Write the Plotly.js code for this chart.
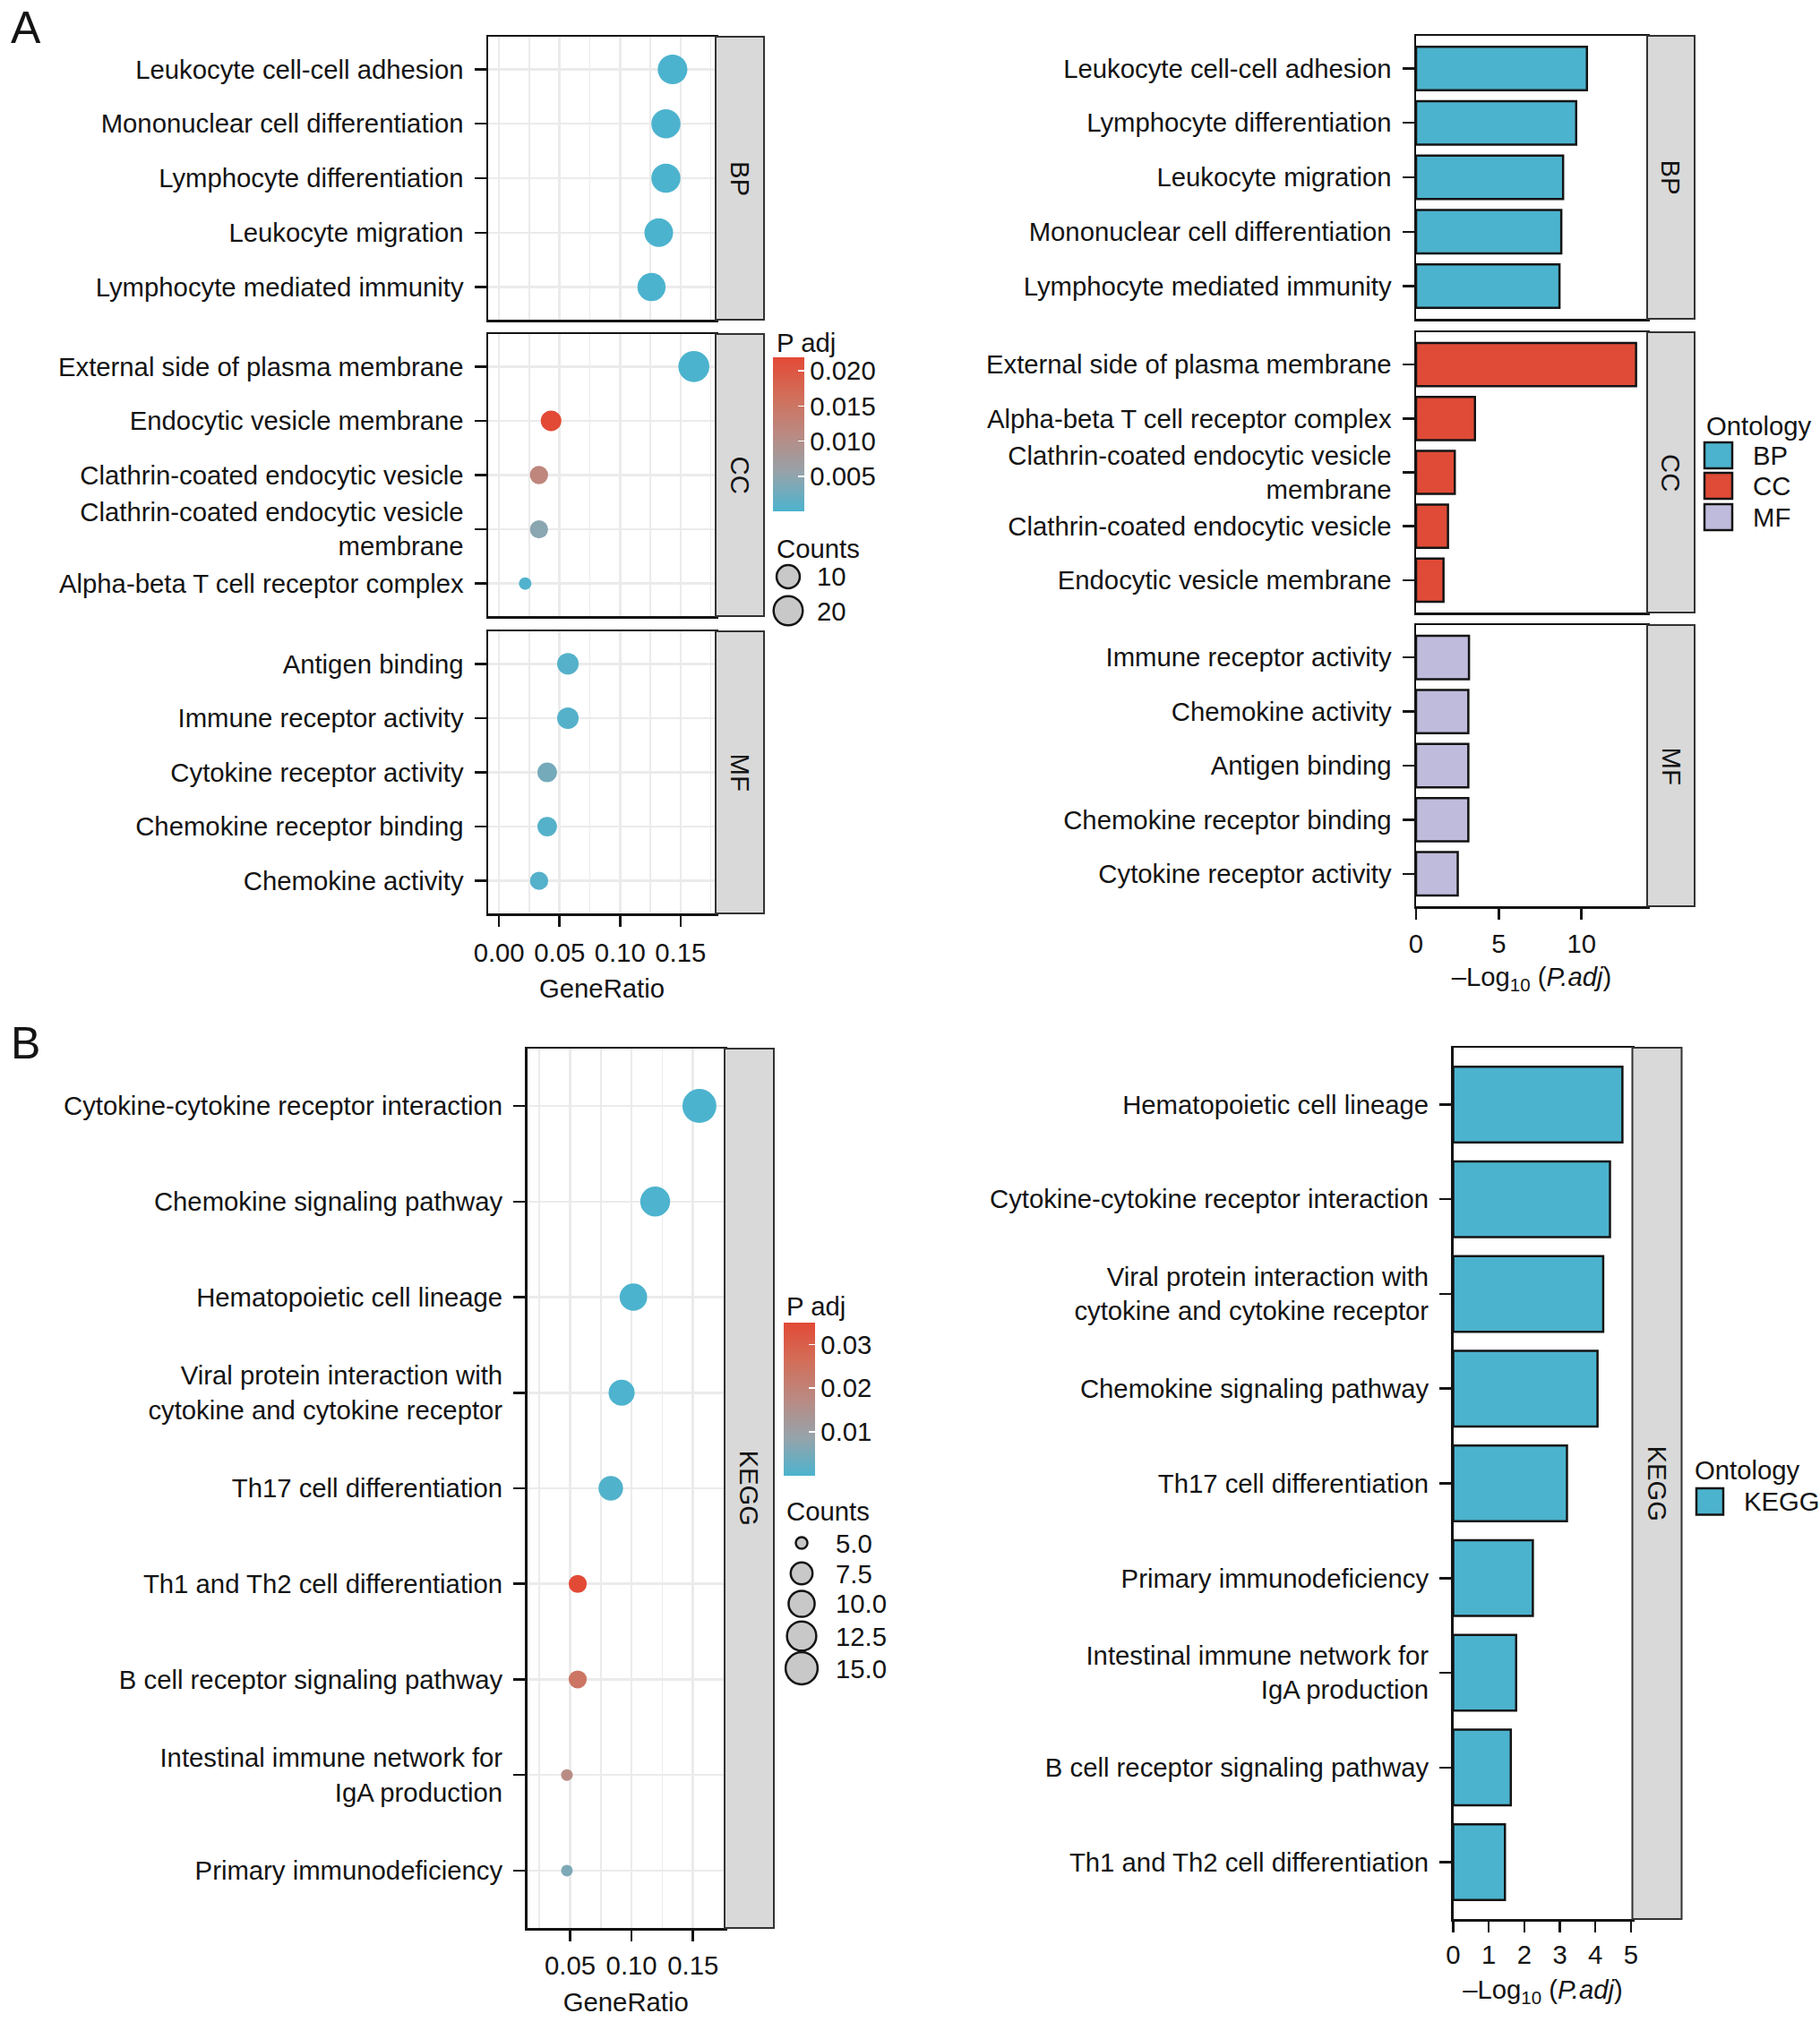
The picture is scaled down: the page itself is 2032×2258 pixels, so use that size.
<!DOCTYPE html>
<html><head><meta charset="utf-8">
<script src="https://cdn.plot.ly/plotly-3.0.1.min.js"></script>
<style>html,body{margin:0;padding:0;background:#fff}#chart{width:2032px;height:2258px}</style>
</head><body><div id="chart"></div>
<script>
// ================= DATA =================
// Panel A - dot plot (GeneRatio / Counts), order top -> bottom
const bpDotTerms = ["Leukocyte cell-cell adhesion","Mononuclear cell differentiation","Lymphocyte differentiation","Leukocyte migration","Lymphocyte mediated immunity"];
const bpDotRatio = [0.1434,0.1379,0.1379,0.1320,0.1260];
const bpDotCount = [21,20,20,19,18];
const ccDotTerms = ["External side of plasma membrane","Endocytic vesicle membrane","Clathrin-coated endocytic vesicle","Clathrin-coated endocytic vesicle<br>membrane","Alpha-beta T cell receptor complex"];
const ccDotRatio = [0.1610,0.0430,0.0330,0.0330,0.0216];
const ccDotCount = [24,7,5,5,3];
const mfDotTerms = ["Antigen binding","Immune receptor activity","Cytokine receptor activity","Chemokine receptor binding","Chemokine activity"];
const mfDotRatio = [0.0569,0.0569,0.0398,0.0398,0.0331];
const mfDotCount = [8,8,6,6,5];
// Panel A - bar plot, -log10(P.adj)
const bpBarTerms = ["Leukocyte cell-cell adhesion","Lymphocyte differentiation","Leukocyte migration","Mononuclear cell differentiation","Lymphocyte mediated immunity"];
const bpBarLogP = [10.33,9.68,8.89,8.78,8.67];
const ccBarTerms = ["External side of plasma membrane","Alpha-beta T cell receptor complex","Clathrin-coated endocytic vesicle<br>membrane","Clathrin-coated endocytic vesicle","Endocytic vesicle membrane"];
const ccBarLogP = [13.30,3.56,2.34,1.93,1.66];
const mfBarTerms = ["Immune receptor activity","Chemokine activity","Antigen binding","Chemokine receptor binding","Cytokine receptor activity"];
const mfBarLogP = [3.20,3.16,3.16,3.16,2.52];
// Panel B - KEGG
const keggDotTerms = ["Cytokine-cytokine receptor interaction","Chemokine signaling pathway","Hematopoietic cell lineage","Viral protein interaction with<br>cytokine and cytokine receptor","Th17 cell differentiation","Th1 and Th2 cell differentiation","B cell receptor signaling pathway","Intestinal immune network for<br>IgA production","Primary immunodeficiency"];
const keggDotRatio = [0.1552,0.1192,0.1015,0.0919,0.0831,0.0562,0.0562,0.0474,0.0474];
const keggDotCount = [17,13,11,10,9,6,6,5,5];
const keggBarTerms = ["Hematopoietic cell lineage","Cytokine-cytokine receptor interaction","Viral protein interaction with<br>cytokine and cytokine receptor","Chemokine signaling pathway","Th17 cell differentiation","Primary immunodeficiency","Intestinal immune network for<br>IgA production","B cell receptor signaling pathway","Th1 and Th2 cell differentiation"];
const keggBarLogP = [4.76,4.41,4.22,4.06,3.20,2.24,1.77,1.62,1.455];
// Legend / tick labels
const padjTicksA = [0.005,0.010,0.015,0.020];
const padjTicksB = [0.01,0.02,0.03];
const countBreaksA = [10,20];
const countBreaksB = [5.0,7.5,10.0,12.5,15.0];
const goxTicks = [0.00,0.05,0.10,0.15];
const keggxTicks = [0.05,0.10,0.15];

// ================= STYLE =================
const W = 2032, H = 2258;
const FONT = "Liberation Sans, Arial, Helvetica, sans-serif";
const FS = 29.3;
const TXT = "#141414";
const C_BP = "#4CB3CE", C_CC = "#DF4B36", C_MF = "#BFBBDC";
const cscale = [[0,"#4CB3CE"],[0.25,"#96A3AA"],[0.5,"#BA8A82"],[0.75,"#D26E59"],[1,"#E24A36"]];
const px = v => v / W;
const py = v => 1 - v / H;

// padj lookup from bar data
const logpMap = {};
[[bpBarTerms,bpBarLogP],[ccBarTerms,ccBarLogP],[mfBarTerms,mfBarLogP],[keggBarTerms,keggBarLogP]].forEach(([t,v])=>t.forEach((n,i)=>logpMap[n]=v[i]));
const padjOf = terms => terms.map(t => Math.pow(10, -logpMap[t]));

const goCounts = bpDotCount.concat(ccDotCount, mfDotCount);
const cminA = Math.min(...goCounts), cminB = Math.min(...keggDotCount);
const sizeA = c => 14 + 4.5 * Math.sqrt(Math.max(c - cminA, 0));
const sizeB = c => 13 + 7.2 * Math.sqrt(Math.max(c - cminB, 0));
const goPadjMax = Math.max(...padjOf(bpDotTerms), ...padjOf(ccDotTerms), ...padjOf(mfDotTerms));
const keggPadjMax = Math.max(...padjOf(keggDotTerms));

// ================= PANEL GEOMETRY (pixels) =================
const G = {
  aDotX: [545, 799], aDotStrip: [799, 853],
  aDotY: [[41,357],[373,688],[705,1020]],
  aBarX: [1581, 1839], aBarStrip: [1839, 1892],
  aBarY: [[40,356],[371,684],[698,1012]],
  bDotX: [588.5, 809], bDotStrip: [809, 864], bDotY: [1171, 2153],
  bBarX: [1622.5, 1822.5], bBarStrip: [1822.5, 1877.5], bBarY: [1170, 2143]
};

const traces = [];
const layout = {
  width: W, height: H, margin: {l:0,r:0,t:0,b:0},
  paper_bgcolor: "#fff", plot_bgcolor: "#fff",
  font: {family: FONT, size: FS, color: TXT},
  showlegend: false, shapes: [], annotations: []
};

function axX(dom, anchor, range, opts) {
  return Object.assign({
    domain: [px(dom[0]), px(dom[1])], anchor: anchor, range: range,
    showline: true, mirror: true, linecolor: TXT, linewidth: 2.5,
    zeroline: false, showgrid: false, ticks: "", showticklabels: false,
    automargin: false, fixedrange: true
  }, opts || {});
}
function axY(dom, anchor, cats, opts) {
  const n = cats.length;
  return Object.assign({
    domain: [py(dom[1]), py(dom[0])], anchor: anchor,
    type: "category", categoryorder: "array", categoryarray: cats,
    range: [n - 0.4, -0.6],
    showline: true, mirror: true, linecolor: TXT, linewidth: 2.5,
    zeroline: false, showgrid: false,
    ticks: "outside", ticklen: 13, tickwidth: 2.5, tickcolor: TXT,
    ticklabelstandoff: 6,
    tickfont: {family: FONT, size: FS, color: TXT},
    automargin: false, fixedrange: true
  }, opts || {});
}
const gridOpts = {showgrid: true, gridcolor: "#EBEBEB", gridwidth: 2.5};

function strip(xr, yr, label) {
  layout.shapes.push({type:"rect", xref:"paper", yref:"paper",
    x0: px(xr[0]), x1: px(xr[1]), y0: py(yr[1]), y1: py(yr[0]),
    fillcolor: "#D9D9D9", line: {color: "#333333", width: 2}, layer: "above"});
  layout.annotations.push({xref:"paper", yref:"paper", x: px((xr[0]+xr[1])/2), y: py((yr[0]+yr[1])/2),
    text: label, textangle: 90, showarrow: false, xanchor:"center", yanchor:"middle",
    font: {family: FONT, size: FS, color: TXT}});
}

// ----- Panel A dot plots -----
const aDot = [[bpDotTerms,bpDotRatio,bpDotCount,"BP"],[ccDotTerms,ccDotRatio,ccDotCount,"CC"],[mfDotTerms,mfDotRatio,mfDotCount,"MF"]];
aDot.forEach((d, i) => {
  const k = i + 1;
  const xn = "xaxis" + (k === 1 ? "" : k), yn = "yaxis" + (k === 1 ? "" : k);
  const last = i === 2;
  layout[xn] = axX(G.aDotX, "y" + (k === 1 ? "" : k), [-0.009, 0.179], Object.assign({}, gridOpts, {
    tickvals: goxTicks, ticktext: goxTicks.map(v => v.toFixed(2)),
    minor: {tickvals: [0.025,0.075,0.125,0.175], showgrid: true, gridcolor: "#EBEBEB", gridwidth: 1.5},
  }, last ? {ticks: "outside", ticklen: 12, tickwidth: 2.5, tickcolor: TXT, showticklabels: true,
    tickfont: {family: FONT, size: FS, color: TXT}, ticklabelstandoff: 4,
    title: {text: "GeneRatio", standoff: 15, font: {family: FONT, size: FS, color: TXT}}} : {}));
  layout[yn] = axY(G.aDotY[i], "x" + (k === 1 ? "" : k), d[0], gridOpts);
  traces.push({type: "scatter", mode: "markers", xaxis: "x" + (k === 1 ? "" : k), yaxis: "y" + (k === 1 ? "" : k),
    x: d[1], y: d[0], hoverinfo: "skip",
    marker: {size: d[2].map(sizeA), color: padjOf(d[0]), colorscale: cscale, cmin: 0, cmax: goPadjMax,
      line: {width: 0}, opacity: 1,
      showscale: i === 1,
      colorbar: {x: px(862.7), xanchor: "left", xpad: 0, y: py(399.3), yanchor: "top", ypad: 0,
        len: 171.7, lenmode: "pixels", thickness: 34.6, thicknessmode: "pixels", outlinewidth: 0,
        tickvals: padjTicksA, ticktext: padjTicksA.map(v => v.toFixed(3)),
        ticks: "inside", ticklen: 7, tickwidth: 1.5, tickcolor: "#ffffff",
        tickfont: {family: FONT, size: FS, color: TXT}}}
  });
  strip(G.aDotStrip, G.aDotY[i], d[3]);
});

// ----- Panel A bar plots -----
const aBar = [[bpBarTerms,bpBarLogP,C_BP,"BP"],[ccBarTerms,ccBarLogP,C_CC,"CC"],[mfBarTerms,mfBarLogP,C_MF,"MF"]];
aBar.forEach((d, i) => {
  const k = i + 4;
  const last = i === 2;
  layout["xaxis" + k] = axX(G.aBarX, "y" + k, [0, 13.97], Object.assign({dtick: 5, tick0: 0},
    last ? {ticks: "outside", ticklen: 12, tickwidth: 2.5, tickcolor: TXT, showticklabels: true,
      tickfont: {family: FONT, size: FS, color: TXT}, ticklabelstandoff: 2,
      title: {text: "\u2013Log<sub>10</sub> (<i>P.adj</i>)", standoff: 12, font: {family: FONT, size: FS, color: TXT}}} : {}));
  layout["yaxis" + k] = axY(G.aBarY[i], "x" + k, d[0]);
  traces.push({type: "bar", orientation: "h", xaxis: "x" + k, yaxis: "y" + k,
    x: d[1], y: d[0], width: 0.8, hoverinfo: "skip",
    marker: {color: d[2], line: {color: TXT, width: 2.5}}});
  strip(G.aBarStrip, G.aBarY[i], d[3]);
});

// ----- Panel B dot plot -----
layout.xaxis7 = axX(G.bDotX, "y7", [0.015, 0.1757], Object.assign({}, gridOpts, {
  tickvals: keggxTicks, ticktext: keggxTicks.map(v => v.toFixed(2)),
  minor: {tickvals: [0.025,0.075,0.125,0.175], showgrid: true, gridcolor: "#EBEBEB", gridwidth: 1.5},
  ticks: "outside", ticklen: 12, tickwidth: 2.5, tickcolor: TXT, showticklabels: true,
  tickfont: {family: FONT, size: FS, color: TXT}, ticklabelstandoff: 2,
  title: {text: "GeneRatio", standoff: 16, font: {family: FONT, size: FS, color: TXT}}}));
layout.yaxis7 = axY(G.bDotY, "x7", keggDotTerms, gridOpts);
traces.push({type: "scatter", mode: "markers", xaxis: "x7", yaxis: "y7",
  x: keggDotRatio, y: keggDotTerms, hoverinfo: "skip",
  marker: {size: keggDotCount.map(sizeB), color: padjOf(keggDotTerms), colorscale: cscale, cmin: 0, cmax: keggPadjMax,
    line: {width: 0}, opacity: 1, showscale: true,
    colorbar: {x: px(875), xanchor: "left", xpad: 0, y: py(1476.7), yanchor: "top", ypad: 0,
      len: 170.6, lenmode: "pixels", thickness: 35, thicknessmode: "pixels", outlinewidth: 0,
      tickvals: padjTicksB, ticktext: padjTicksB.map(v => v.toFixed(2)),
      ticks: "inside", ticklen: 7, tickwidth: 1.5, tickcolor: "#ffffff",
      tickfont: {family: FONT, size: FS, color: TXT}}}
});
strip(G.bDotStrip, G.bDotY, "KEGG");

// ----- Panel B bar plot -----
layout.xaxis8 = axX(G.bBarX, "y8", [0, 5.04], {dtick: 1, tick0: 0,
  ticks: "outside", ticklen: 12, tickwidth: 2.5, tickcolor: TXT, showticklabels: true,
  tickfont: {family: FONT, size: FS, color: TXT}, ticklabelstandoff: 0,
  title: {text: "\u2013Log<sub>10</sub> (<i>P.adj</i>)", standoff: 14, font: {family: FONT, size: FS, color: TXT}}});
layout.yaxis8 = axY(G.bBarY, "x8", keggBarTerms);
traces.push({type: "bar", orientation: "h", xaxis: "x8", yaxis: "y8",
  x: keggBarLogP, y: keggBarTerms, width: 0.8, hoverinfo: "skip",
  marker: {color: C_BP, line: {color: TXT, width: 2.5}}});
strip(G.bBarStrip, G.bBarY, "KEGG");

// ----- Legends -----
function text(x, y, s, size, anchor) {
  layout.annotations.push({xref: "paper", yref: "paper", x: px(x), y: py(y), text: s, showarrow: false,
    xanchor: anchor || "left", yanchor: "middle", font: {family: FONT, size: size || FS, color: TXT}});
}
// colour bar titles
text(865, 382, "P adj");
text(876, 1458, "P adj");
// size legends
function sizeLegend(titleX, titleY, cx, labelX, ys, breaks, fn, fmt) {
  text(titleX, titleY, "Counts");
  breaks.forEach((b, i) => {
    const r = fn(b) / 2;
    layout.shapes.push({type: "circle", xref: "paper", yref: "paper",
      x0: px(cx - r), x1: px(cx + r), y0: py(ys[i] + r), y1: py(ys[i] - r),
      fillcolor: "#C8C8C8", line: {color: TXT, width: 2.5}});
    text(labelX, ys[i], fmt(b));
  });
}
sizeLegend(865, 613, 880, 910, [644, 682], countBreaksA, sizeA, v => String(v));
sizeLegend(876, 1688, 895, 931, [1723, 1757, 1791, 1827, 1863], countBreaksB, sizeB, v => v.toFixed(1));
// ontology legends
function ontoLegend(titleX, titleY, keyX, keyW, items) {
  text(titleX, titleY, "Ontology");
  items.forEach(it => {
    layout.shapes.push({type: "rect", xref: "paper", yref: "paper",
      x0: px(keyX), x1: px(keyX + keyW), y0: py(it[1] + it[2]), y1: py(it[1]),
      fillcolor: it[3], line: {color: TXT, width: 2.5}});
    text(keyX + keyW + 21, it[1] + it[2] / 2, it[0]);
  });
}
ontoLegend(1903, 475, 1903, 31, [["BP", 494, 29, C_BP], ["CC", 528, 29, C_CC], ["MF", 563, 29, C_MF]]);
ontoLegend(1890, 1641, 1894, 30, [["KEGG", 1662, 29.5, C_BP]]);

// panel letters
text(10, 31, "A", 50);
text(10, 1165, "B", 50);

Plotly.newPlot("chart", traces, layout, {staticPlot: true, displayModeBar: false});
</script></body></html>
